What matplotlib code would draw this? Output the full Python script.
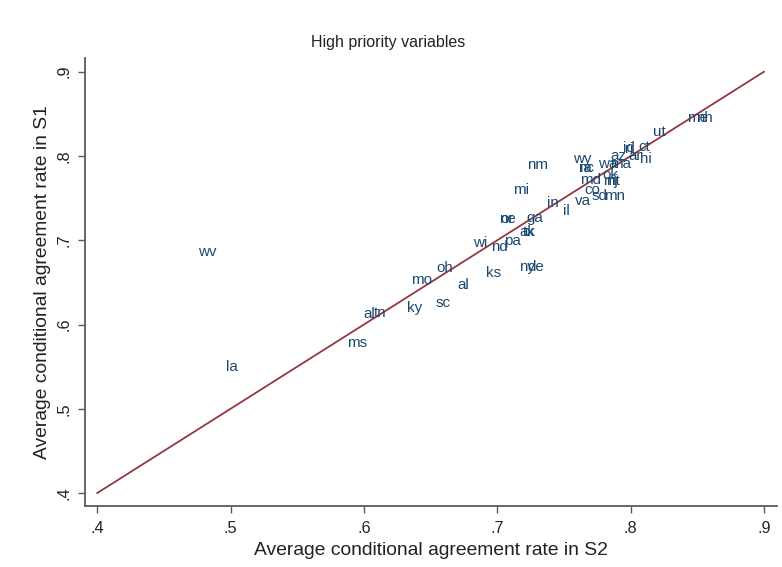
import matplotlib
matplotlib.use("Agg")
import matplotlib.pyplot as plt

plt.rcParams['font.family'] = ['Liberation Sans', 'DejaVu Sans']

# state labels with S2 (x) and S1 (y) agreement rates
states = ['wv', 'la', 'ms', 'al', 'tn', 'ky', 'sc', 'mo', 'oh', 'al',
          'ks', 'ny', 'de', 'wi', 'nd', 'pa', 'ak', 'tx', 'ne', 'or',
          'ga', 'in', 'il', 'mi', 'nm', 'wy', 'nc', 'ia', 'wa', 'ma',
          'az', 'id', 'ri', 'ct', 'ar', 'hi', 'ut', 'me', 'nh', 'md',
          'ok', 'mt', 'nj', 'co', 'va', 'sd', 'mn']
rate_s2 = [0.474, 0.495, 0.586, 0.598, 0.606, 0.631, 0.652, 0.634, 0.653, 0.6685,
           0.690, 0.715, 0.721, 0.680, 0.694, 0.704, 0.715, 0.718, 0.700, 0.701,
           0.720, 0.736, 0.748, 0.7105, 0.721, 0.7555, 0.759, 0.7605, 0.774, 0.783,
           0.783, 0.793, 0.794, 0.804, 0.7965, 0.8055, 0.815, 0.8406, 0.8475, 0.7605,
           0.777, 0.778, 0.780, 0.7635, 0.7565, 0.7695, 0.7785]
rate_s1 = [0.686, 0.549, 0.578, 0.613, 0.6135, 0.619, 0.625, 0.653, 0.667, 0.647,
           0.661, 0.668, 0.668, 0.697, 0.692, 0.699, 0.710, 0.710, 0.725, 0.725,
           0.726, 0.744, 0.7345, 0.760, 0.789, 0.797, 0.786, 0.7855, 0.791, 0.791,
           0.800, 0.809, 0.808, 0.811, 0.800, 0.797, 0.829, 0.8445, 0.8445, 0.771,
           0.777, 0.770, 0.770, 0.7595, 0.7464, 0.752, 0.752]

# 45 degree reference line
line_pts = [0.4, 0.9]

ticks = [0.4, 0.5, 0.6, 0.7, 0.8, 0.9]
tick_labels = ['.4', '.5', '.6', '.7', '.8', '.9']

label_col = '#1a476f'
line_col = '#94383e'
axis_col = '#5a5a5a'

fig = plt.figure(figsize=(7.82, 5.67), dpi=100)
ax = fig.add_axes([85 / 782, 61 / 567, 692 / 782, 448 / 567])

ax.plot(line_pts, line_pts, color=line_col, lw=1.3, zorder=1)

for lab, xv, yv in zip(states, rate_s2, rate_s1):
    ax.annotate(lab, (xv, yv), xytext=(1.4, 0), textcoords='offset points',
                ha='left', va='center', fontsize=10.9, color=label_col, zorder=2)

ax.set_xlim(0.3908, 0.9098)
ax.set_ylim(0.3846, 0.9163)

ax.set_xticks(ticks, tick_labels)
ax.set_yticks(ticks, tick_labels)
ax.tick_params(axis='both', direction='out', length=5, width=1, color=axis_col,
               labelsize=11.7, labelcolor='#222222')
ax.tick_params(axis='y', labelrotation=90, pad=5)
for lab in ax.get_yticklabels():
    lab.set_va('center')
ax.tick_params(axis='x', pad=6)

for side in ['top', 'right']:
    ax.spines[side].set_visible(False)
for side in ['left', 'bottom']:
    ax.spines[side].set_color(axis_col)
    ax.spines[side].set_linewidth(1.3)

ax.set_xlabel('Average conditional agreement rate in S2', fontsize=13.9, color='#222222', labelpad=4)
ax.set_ylabel('Average conditional agreement rate in S1', fontsize=13.9, color='#222222', labelpad=4)
fig.text(388 / 782, 1 - 43 / 567, 'High priority variables', ha='center', va='center',
         fontsize=11.5, color='#222222')

fig.savefig('out.png', dpi=100)
